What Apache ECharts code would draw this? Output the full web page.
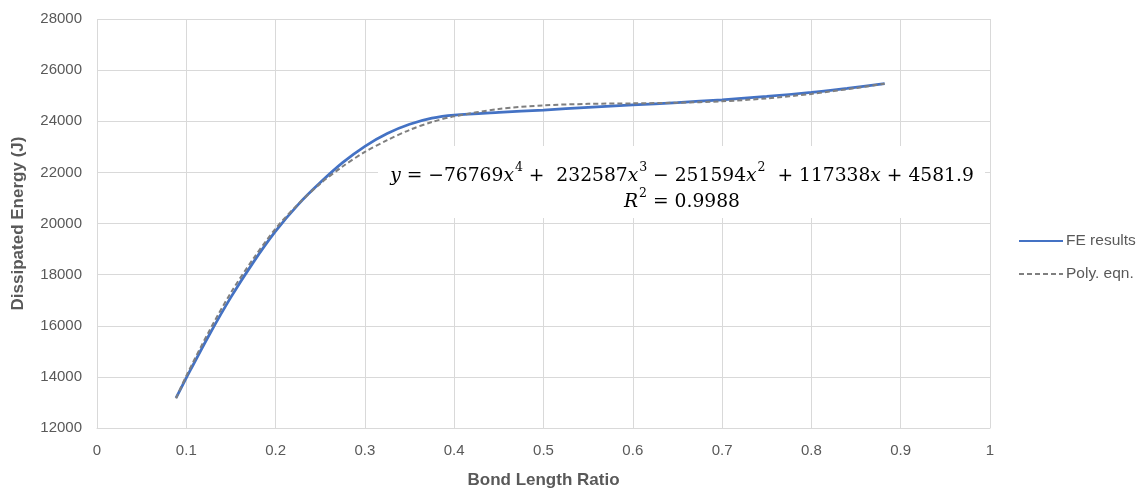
<!DOCTYPE html>
<html>
<head>
<meta charset="utf-8">
<script src="https://cdn.jsdelivr.net/npm/echarts@6/dist/echarts.min.js"></script>
<style>
html,body{margin:0;padding:0;background:#fff;}
#chart{width:1143px;height:494px;}
</style>
</head>
<body>
<div id="chart"></div>
<script>
// FE results
var feX = [0.0885, 0.1, 0.125, 0.15, 0.175, 0.2, 0.225, 0.25, 0.275, 0.3, 0.325, 0.35, 0.375, 0.4, 0.45, 0.5, 0.55, 0.6, 0.65, 0.7, 0.75, 0.8, 0.84, 0.882];
var feY = [13180, 13960, 15600, 17120, 18480, 19700, 20730, 21600, 22380, 23020, 23520, 23880, 24120, 24240, 24350, 24440, 24540, 24640, 24730, 24840, 24970, 25130, 25290, 25470];
// Polynomial trend line
var polyX = [0.0885, 0.1, 0.125, 0.15, 0.175, 0.2, 0.225, 0.25, 0.275, 0.3, 0.325, 0.35, 0.375, 0.4, 0.45, 0.5, 0.55, 0.6, 0.65, 0.7, 0.75, 0.8, 0.85, 0.882];
var polyY = [13160, 14040, 15750, 17300, 18620, 19800, 20750, 21560, 22230, 22800, 23260, 23660, 23970, 24190, 24480, 24620, 24680, 24700, 24725, 24780, 24895, 25070, 25300, 25470];
var seriesNames = ['FE results', 'Poly. eqn.'];
var xTitle = 'Bond Length Ratio';
var yTitle = 'Dissipated Energy (J)';

function pairs(xs, ys){ return xs.map(function(x,i){ return [x, ys[i]]; }); }

var chart = echarts.init(document.getElementById('chart'), null, {renderer:'canvas'});
var labelColor = '#595959';
var gridColor = '#D9D9D9';
var option = {
  animation: false,
  backgroundColor: '#ffffff',
  grid: { left: 97, right: 153, top: 19, bottom: 66, containLabel: false },
  legend: {
    orient: 'vertical', left: 1013, top: 228, itemGap: 17,
    itemWidth: 44, itemHeight: 14, itemGap: 17,
    itemStyle: { opacity: 0 },
    textStyle: { color: labelColor, fontSize: 15.5, fontFamily: 'Liberation Sans', padding: [0,0,0,-2] },
    data: seriesNames
  },
  xAxis: {
    type: 'value', min: 0, max: 1, interval: 0.1,
    name: xTitle, nameLocation: 'middle', nameGap: 44,
    nameTextStyle: { color: labelColor, fontSize: 17, fontWeight: 'bold', fontFamily: 'Liberation Sans' },
    axisLine: { show: true, lineStyle: { color: gridColor, width: 1 } },
    axisTick: { show: false },
    axisLabel: { color: labelColor, fontSize: 15, margin: 15, fontFamily: 'Liberation Sans',
      formatter: function(v){ return String(Math.round(v*10)/10); } },
    splitLine: { show: true, lineStyle: { color: gridColor, width: 1 } }
  },
  yAxis: {
    type: 'value', min: 12000, max: 28000, interval: 2000,
    name: yTitle, nameLocation: 'middle', nameGap: 70, nameRotate: 90,
    nameTextStyle: { color: labelColor, fontSize: 17, fontWeight: 'bold', fontFamily: 'Liberation Sans' },
    axisLine: { show: false },
    axisTick: { show: false },
    axisLabel: { color: labelColor, fontSize: 15, margin: 15, fontFamily: 'Liberation Sans',
      formatter: function(v){ return String(v); } },
    splitLine: { show: true, lineStyle: { color: gridColor, width: 1 } }
  },
  series: [
    {
      name: seriesNames[0], type: 'line', data: pairs(feX, feY),
      smooth: 0.3, showSymbol: false, symbol: 'none',
      lineStyle: { color: '#4472C4', width: 2.75 },
      itemStyle: { color: '#4472C4' }, z: 3
    },
    {
      name: seriesNames[1], type: 'line', data: pairs(polyX, polyY),
      smooth: 0.3, showSymbol: false, symbol: 'none',
      lineStyle: { color: '#7F7F7F', width: 2, type: [5, 3] },
      itemStyle: { color: '#7F7F7F' }, z: 4
    }
  ],
  graphic: [
    { type: 'rect', z: 50, shape: { x: 378, y: 146, width: 607, height: 72 }, style: { fill: '#ffffff' } },
    { type: 'text', z: 51, x: 682, y: 186,
      style: {
        text: '{v|y}{n| = −76769}{v|x}{s|4}{n| +  232587}{v|x}{s|3}{n| − 251594}{v|x}{s|2}{n|  + 117338}{v|x}{n| + 4581.9}\n{v|R}{s|2}{n| = 0.9988}',
        align: 'center', verticalAlign: 'middle',
        rich: {
          n: { fontFamily: 'DejaVu Serif', fontSize: 18.7, color: '#1a1a1a', lineHeight: 26, verticalAlign: 'bottom' },
          v: { fontFamily: 'DejaVu Serif', fontStyle: 'italic', fontSize: 18.7, color: '#1a1a1a', lineHeight: 26, verticalAlign: 'bottom' },
          s: { fontFamily: 'DejaVu Serif', fontSize: 12.5, color: '#1a1a1a', lineHeight: 14, verticalAlign: 'top', padding: [1,0,0,1] }
        }
      }
    }
  ]
};
chart.setOption(option);
</script>
</body>
</html>
